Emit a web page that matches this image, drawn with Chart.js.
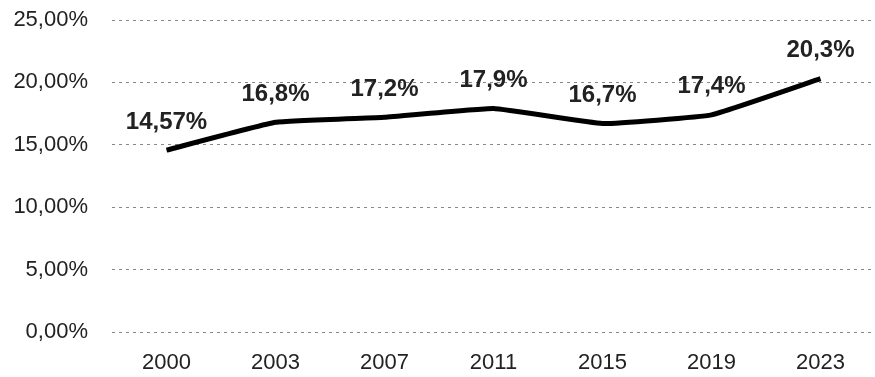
<!DOCTYPE html>
<html>
<head>
<meta charset="utf-8">
<script src="https://cdn.jsdelivr.net/npm/chart.js@4/dist/chart.umd.min.js"></script>
<style>
  html, body { margin: 0; padding: 0; background: #fff; }
  #wrap { width: 875px; height: 377px; }
</style>
</head>
<body>
<div id="wrap"><canvas id="lineChart" width="875" height="377"></canvas></div>
<script>
const years = ["2000", "2003", "2007", "2011", "2015", "2019", "2023"];
const shares = [14.57, 16.8, 17.2, 17.9, 16.7, 17.4, 20.3];
const shareLabels = ["14,57%", "16,8%", "17,2%", "17,9%", "16,7%", "17,4%", "20,3%"];

const ctx = document.getElementById("lineChart");

// Draw the value labels above each point
const pointLabels = {
  id: "pointLabels",
  afterDatasetsDraw(chart) {
    const c = chart.ctx;
    const meta = chart.getDatasetMeta(0);
    c.save();
    c.font = "bold 24px 'Liberation Sans', Arial, sans-serif";
    c.fillStyle = "#222";
    c.textAlign = "center";
    c.textBaseline = "bottom";
    meta.data.forEach((pt, i) => {
      c.fillText(shareLabels[i], pt.x, pt.y - 16);
    });
    c.restore();
  }
};

new Chart(ctx, {
  type: "line",
  data: {
    labels: years,
    datasets: [{
      data: shares,
      borderColor: "#000",
      borderWidth: 5,
      pointRadius: 0,
      tension: 0.1,
      fill: false
    }]
  },
  options: {
    responsive: false,
    animation: false,
    layout: { autoPadding: false, padding: { top: 8, right: 0, left: 8, bottom: 2 } },
    plugins: {
      legend: { display: false },
      tooltip: { enabled: false }
    },
    scales: {
      x: {
        offset: true,
        grid: { display: false },
        border: { display: false },
        afterFit: s => { s.height = 43; },
        ticks: {
          color: "#222",
          font: { family: "'Liberation Sans', Arial, sans-serif", size: 22 },
          padding: 10
        }
      },
      y: {
        min: 0,
        max: 25,
        afterFit: s => { s.width = 104; s.paddingTop = 20; },
        ticks: {
          stepSize: 5,
          color: "#222",
          padding: 24,
          font: { family: "'Liberation Sans', Arial, sans-serif", size: 22 },
          callback: v => v.toFixed(2).replace(".", ",") + "%"
        },
        grid: { color: "#888", lineWidth: 1, drawTicks: false },
        border: { display: false, dash: [3, 4] }
      }
    }
  },
  plugins: [pointLabels]
});
</script>
</body>
</html>
